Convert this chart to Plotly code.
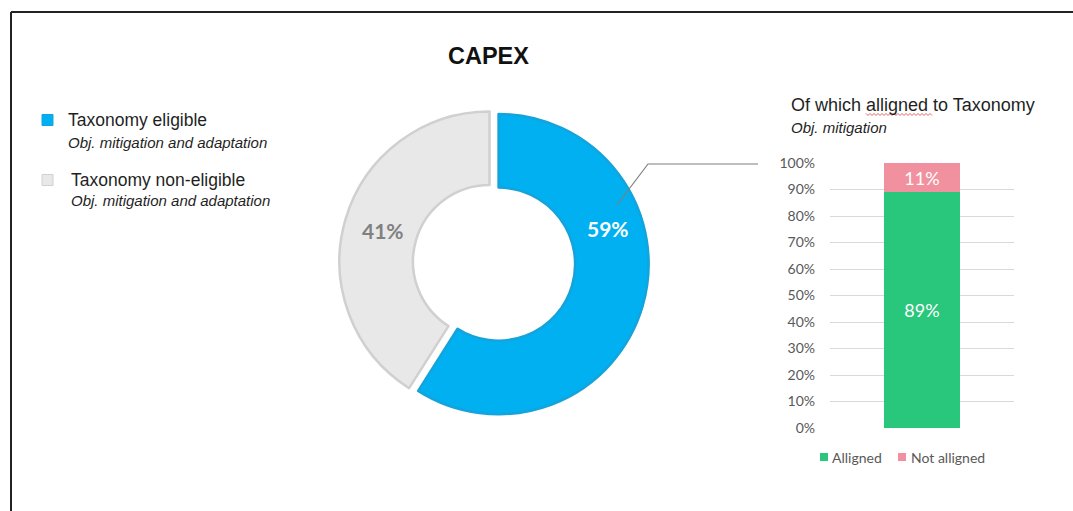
import plotly.graph_objects as go

# ---- data ----
donut_labels = ["Taxonomy eligible", "Taxonomy non-eligible"]
donut_values = [59, 41]
donut_subtitle = "Obj. mitigation and adaptation"

bar_series = ["Alligned", "Not alligned"]
bar_values = [89, 11]
bar_category = ["CAPEX"]
y_ticks = [0, 10, 20, 30, 40, 50, 60, 70, 80, 90, 100]

# ---- styling ----
W, H = 1073, 511
BLUE, BLUE_EDGE = "#00B0F0", "#14A3DB"
GREY, GREY_EDGE = "#E8E8E8", "#D0D0D0"
GREEN, PINK = "#29C77B", "#F1919F"
TXT = "#1F1F1F"
AX = "#595959"
NUM_FONT = "Lato"
TXT_FONT = "Liberation Sans"


def px(x):
    return x / W


def py(y):
    return 1 - y / H


fig = go.Figure()

# Donut: eligible share pulled out of the ring
fig.add_trace(go.Pie(
    labels=donut_labels,
    values=donut_values,
    hole=0.51,
    sort=False,
    direction="clockwise",
    rotation=0,
    pull=[0.063, 0],
    marker=dict(colors=[BLUE, GREY], line=dict(color=[BLUE_EDGE, GREY_EDGE], width=2.5)),
    textinfo="none",
    hoverinfo="skip",
    showlegend=False,
    automargin=False,
    domain=dict(x=[px(330), px(649)], y=[py(421), py(102)]),
))

# Stacked 100% bar: aligned vs not aligned
for name, val, col in zip(bar_series, bar_values, [GREEN, PINK]):
    fig.add_trace(go.Bar(
        x=bar_category,
        y=[val],
        name=name,
        marker=dict(color=col, line=dict(width=0)),
        width=0.41,
        text=[f"{val}%"],
        textposition="inside",
        insidetextanchor="middle",
        textangle=0,
        textfont=dict(family=NUM_FONT, size=18, color="white"),
        hoverinfo="skip",
        showlegend=False,
        xaxis="x", yaxis="y",
    ))

fig.update_layout(
    width=W, height=H,
    margin=dict(l=0, r=0, t=0, b=0, autoexpand=False),
    paper_bgcolor="white",
    plot_bgcolor="white",
    showlegend=False,
    barmode="stack",
    xaxis=dict(domain=[px(830), px(1014)], range=[-0.5, 0.5], type="category",
               showticklabels=False, showgrid=False, zeroline=False, showline=False,
               automargin=False),
    yaxis=dict(domain=[py(428), py(163)], range=[0, 100],
               tickvals=y_ticks, ticktext=[f"{v}%" for v in y_ticks],
               tickfont=dict(family=NUM_FONT, size=14, color=AX),
               gridcolor="#D9D9D9", gridwidth=1, zeroline=False, showline=False,
               ticks="", ticklabelstandoff=14, automargin=False),
)

annotations = []
shapes = []


def label(x, y, text, size, color, family=TXT_FONT, anchor="left"):
    annotations.append(dict(x=px(x), y=py(y), text=text, showarrow=False,
                            xref="paper", yref="paper", xanchor=anchor, yanchor="middle",
                            font=dict(family=family, size=size, color=color)))


# Title
label(488, 56, "<b>CAPEX</b>", 23.5, "#111111", anchor="center")

# Donut value labels
label(608, 228, f"<b>{donut_values[0]}%</b>", 21, "white", NUM_FONT, "center")
label(383, 230, f"<b>{donut_values[1]}%</b>", 21, "#808080", NUM_FONT, "center")

# Donut legend (left)
legend_rows = [
    (donut_labels[0], BLUE, BLUE_EDGE, 120, 142, 42, 66),
    (donut_labels[1], GREY, GREY_EDGE, 180, 201, 42, 69),
]
for text, fill, edge, ty, sy, sx, tx in legend_rows:
    shapes.append(dict(type="rect", xref="paper", yref="paper",
                       x0=px(sx), x1=px(sx + 11), y0=py(ty - 5.5), y1=py(ty + 5.5),
                       fillcolor=fill, line=dict(color=edge, width=1)))
    label(tx, ty, text, 17.5, TXT)
    label(tx, sy, f"<i>{donut_subtitle}</i>", 15, TXT)

# Bar chart heading
label(789, 105, "Of which alligned to Taxonomy", 18, TXT)
label(789, 127, "<i>Obj. mitigation</i>", 15, TXT)

# Red wavy proofing underline below "alligned"
wave = []
x = 866.0
up = True
while x <= 932:
    wave.append((x, 113.5 if up else 115.5))
    x += 2
    up = not up
path = "M " + " L ".join(f"{px(a):.5f},{py(b):.5f}" for a, b in wave)
shapes.append(dict(type="path", xref="paper", yref="paper", path=path,
                   line=dict(color="#E04040", width=0.8)))

# Bar legend (below)
bar_legend = [(bar_series[0], GREEN, 820, 830), (bar_series[1], PINK, 898, 909)]
for text, col, sx, tx in bar_legend:
    shapes.append(dict(type="rect", xref="paper", yref="paper",
                       x0=px(sx), x1=px(sx + 8), y0=py(461), y1=py(453),
                       fillcolor=col, line=dict(width=0)))
    label(tx, 457, text, 14, AX, NUM_FONT)

# Leader line from the eligible slice to the bar chart
leader = [(617, 205), (648, 164), (758, 164)]
shapes.append(dict(type="path", xref="paper", yref="paper",
                   path="M " + " L ".join(f"{px(a):.5f},{py(b):.5f}" for a, b in leader),
                   line=dict(color="#7F7F7F", width=1.2)))

# Frame lines (top and left)
shapes.append(dict(type="line", xref="paper", yref="paper",
                   x0=px(11), x1=1, y0=py(12), y1=py(12), line=dict(color="#222222", width=2)))
shapes.append(dict(type="line", xref="paper", yref="paper",
                   x0=px(11), x1=px(11), y0=py(12), y1=0, line=dict(color="#222222", width=2)))

fig.update_layout(annotations=annotations, shapes=shapes)

fig.write_html("out.html")
